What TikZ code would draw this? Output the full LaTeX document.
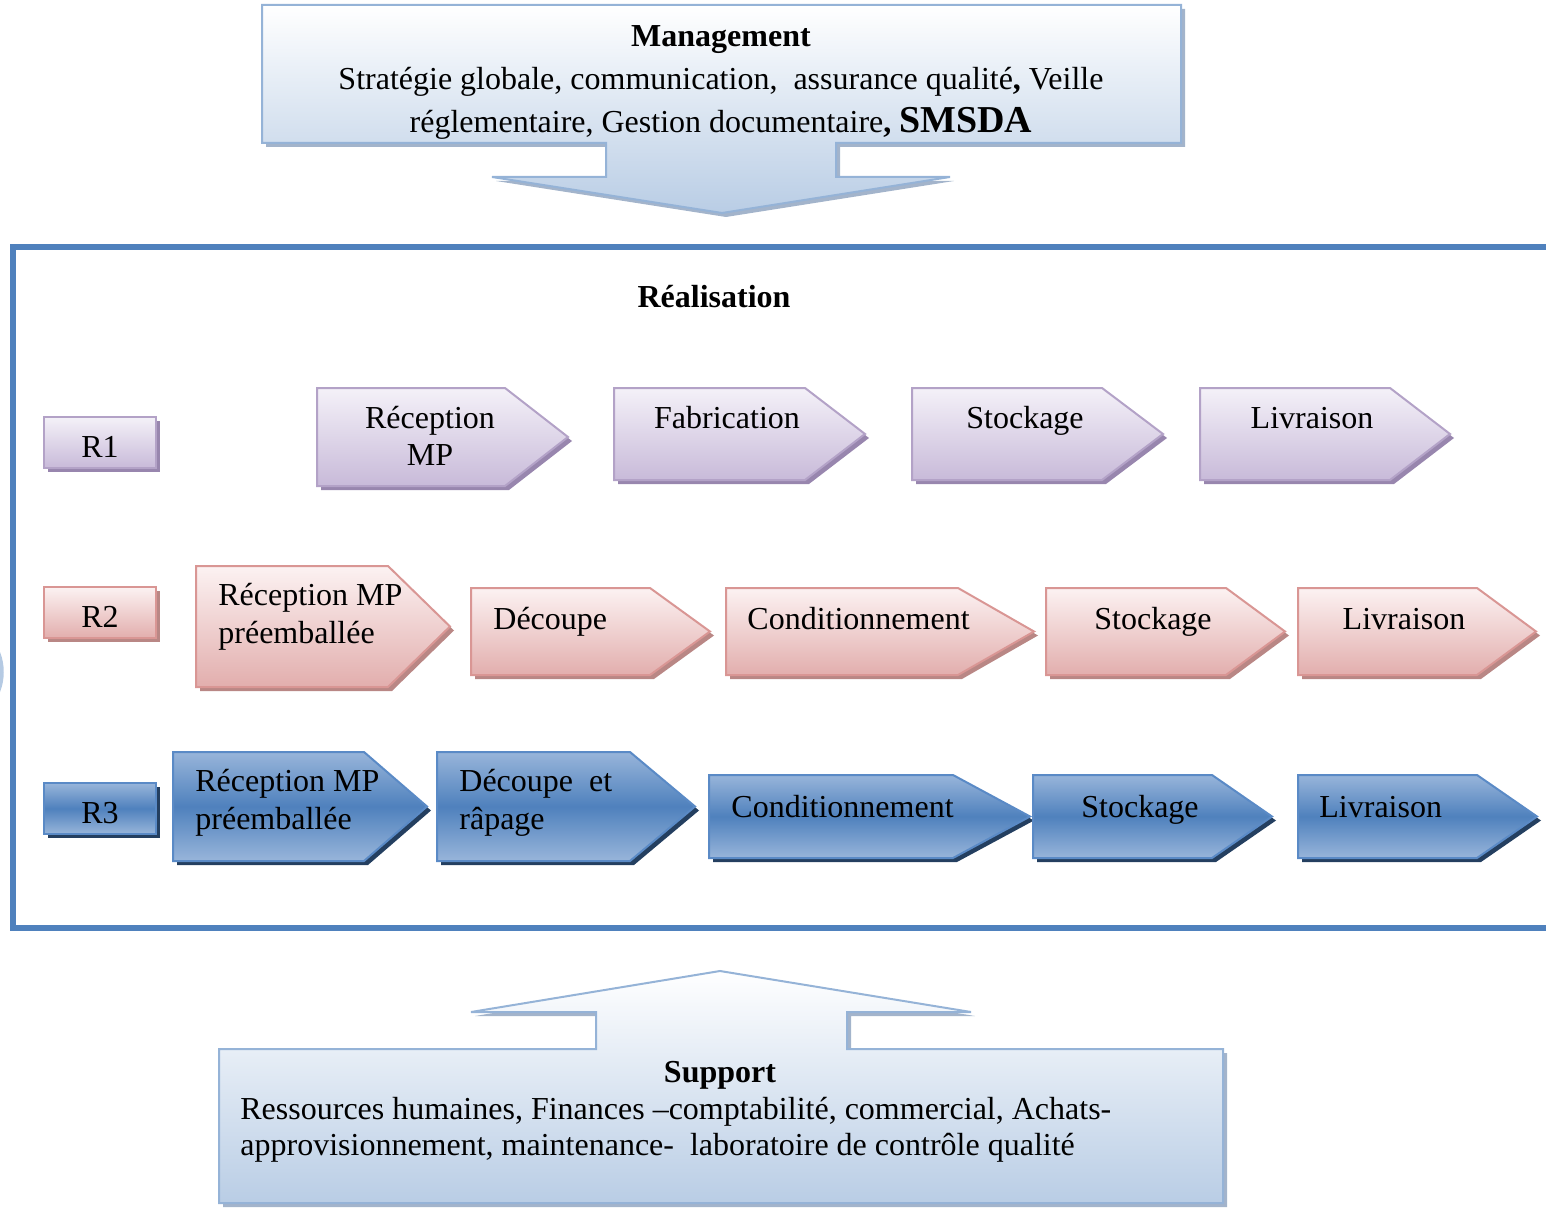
\documentclass[tikz,border=0pt]{standalone}
\usepackage{fontspec}
\setmainfont{Liberation Serif}
\begin{document}
\definecolor{frameblue}{HTML}{4F81BD}
\definecolor{paleline}{HTML}{95B3D7}
\definecolor{palefill}{HTML}{B9CDE5}
\definecolor{paleshadow}{HTML}{A3B4CB}
\definecolor{purpline}{HTML}{B3A2C7}
\definecolor{purptop}{HTML}{F4F1F8}
\definecolor{purpbot}{HTML}{C8BAD9}
\definecolor{purpshadow}{HTML}{9886AE}
\definecolor{pinkline}{HTML}{D99694}
\definecolor{pinktop}{HTML}{FCF2F2}
\definecolor{pinkbot}{HTML}{E2AEAD}
\definecolor{pinkshadow}{HTML}{B98785}
\definecolor{blueline}{HTML}{5A8AC6}
\definecolor{bluelight}{HTML}{98B5DA}
\definecolor{bluemid}{HTML}{4F81BD}
\definecolor{blueshadow}{HTML}{243F60}
\begin{tikzpicture}[x=0.5pt,y=-0.5pt,
  txt/.style={inner sep=0pt, font=\fontsize{16pt}{19pt}\selectfont},
  purpbody/.style={draw=purpline, line width=1pt, top color=purptop, bottom color=purpbot},
  pinkbody/.style={draw=pinkline, line width=1pt, top color=pinktop, bottom color=pinkbot},
  bluebody/.style={draw=blueline, line width=1pt, top color=bluelight, bottom color=bluelight, middle color=bluemid},
  palebody/.style={draw=paleline, line width=1pt, top color=white, bottom color=palefill},
  framebar/.style={draw=frameblue, line width=3pt}]
\useasboundingbox (0,0) rectangle (1546,1208);

% chevron: #1 colour family, #2 left, #3 top, #4 end of straight part, #5 tip x, #6 bottom
\newcommand\chevshape[6]{%
  \fill[#1shadow, shift={(4,4)}] (#2,#3) -- (#4,#3) -- (#5,{(#3+#6)/2}) -- (#4,#6) -- (#2,#6) -- cycle;
  \path[#1body] (#2,#3) -- (#4,#3) -- (#5,{(#3+#6)/2}) -- (#4,#6) -- (#2,#6) -- cycle;}
% row label box: #1 colour family, #2 top, #3 bottom
\newcommand\rowbox[3]{%
  \fill[#1shadow, shift={(4,4)}] (44,#2) rectangle (156,#3);
  \path[#1body] (44,#2) rectangle (156,#3);}

% ---------- Management with downward arrow ----------
\fill[paleshadow, shift={(4,4)}] (262,5) -- (1181,5) -- (1181,143) -- (836,143) -- (836,177)
  -- (950,177) -- (722,213) -- (492,177) -- (606,177) -- (606,143) -- (262,143) -- cycle;
\path[palebody] (262,5) -- (1181,5) -- (1181,143) -- (836,143) -- (836,177)
  -- (950,177) -- (722,213) -- (492,177) -- (606,177) -- (606,143) -- (262,143) -- cycle;
\node[txt, anchor=base, align=center, font=\fontsize{16pt}{21.5pt}\selectfont] (mgmt) at (721,133)
  {\textbf{Management}\\
   Stratégie globale, communication,\ \ assurance qualité\textbf{,} Veille\\
   réglementaire, Gestion documentaire\textbf{, }{\fontsize{19pt}{21.5pt}\selectfont\bfseries SMSDA}};

% ---------- Realisation frame (open on the right) ----------
\draw[framebar] (1546,247.5) -- (13,247.5) -- (13,928) -- (1546,928);
\fill[paleline!70!white] (0,652) .. controls (5,664) and (5,680) .. (0,692) -- cycle;
\node[txt, anchor=base, font=\fontsize{16pt}{19pt}\selectfont\bfseries] (real) at (714,308) {Réalisation};

% ---------- Row R1 ----------
\rowbox{purp}{417}{468}
\node[txt, anchor=base] (R1) at (100,457) {R1};
\chevshape{purp}{317}{388}{505}{568}{486}
\chevshape{purp}{614}{388}{805}{865}{480}
\chevshape{purp}{912}{388}{1102}{1163}{480}
\chevshape{purp}{1200}{388}{1390}{1450}{480}
\node[txt, anchor=base, align=center, font=\fontsize{16pt}{18.5pt}\selectfont] (r1a) at (430,465) {Réception\\MP};
\node[txt, anchor=base] (r1b) at (727,428) {Fabrication};
\node[txt, anchor=base] (r1c) at (1025,428) {Stockage};
\node[txt, anchor=base] (r1d) at (1312,428) {Livraison};

% ---------- Row R2 ----------
\rowbox{pink}{587}{638}
\node[txt, anchor=base] (R2) at (100,627) {R2};
\chevshape{pink}{196}{566}{388}{450}{687}
\chevshape{pink}{471}{588}{650}{710}{675}
\chevshape{pink}{726}{588}{958}{1034}{675}
\chevshape{pink}{1046}{588}{1226}{1285}{675}
\chevshape{pink}{1298}{588}{1477}{1536}{675}
\node[txt, anchor=base west, align=left] (r2a) at (218,643) {Réception MP\\préemballée};
\node[txt, anchor=base west] (r2b) at (493,629) {Découpe};
\node[txt, anchor=base west] (r2c) at (747,629) {Conditionnement};
\node[txt, anchor=base] (r2d) at (1153,629) {Stockage};
\node[txt, anchor=base] (r2e) at (1404,629) {Livraison};

% ---------- Row R3 ----------
\rowbox{blue}{783}{834}
\node[txt, anchor=base] (R3) at (100,823) {R3};
\chevshape{blue}{173}{752}{364}{427}{861}
\chevshape{blue}{437}{752}{630}{695}{861}
\chevshape{blue}{709}{775}{953}{1030}{858}
\chevshape{blue}{1033}{775}{1212}{1272}{858}
\chevshape{blue}{1298}{775}{1477}{1537}{858}
\node[txt, anchor=base west, align=left] (r3a) at (195,829) {Réception MP\\préemballée};
\node[txt, anchor=base west, align=left] (r3b) at (459,829) {Découpe\ \ et\\râpage};
\node[txt, anchor=base west] (r3c) at (731,817) {Conditionnement};
\node[txt, anchor=base] (r3d) at (1140,817) {Stockage};
\node[txt, anchor=base west] (r3e) at (1319,817) {Livraison};

% ---------- Support with upward arrow ----------
\fill[paleshadow, shift={(4,4)}] (219,1049) -- (596,1049) -- (596,1012) -- (471,1012) -- (720,971)
  -- (971,1012) -- (847,1012) -- (847,1049) -- (1223,1049) -- (1223,1203) -- (219,1203) -- cycle;
\path[palebody] (219,1049) -- (596,1049) -- (596,1012) -- (471,1012) -- (720,971)
  -- (971,1012) -- (847,1012) -- (847,1049) -- (1223,1049) -- (1223,1203) -- (219,1203) -- cycle;
\node[txt, anchor=base, font=\fontsize{16pt}{19pt}\selectfont\bfseries] (supt) at (720,1082) {Support};
\node[txt, anchor=base west, align=left, font=\fontsize{16pt}{18pt}\selectfont] (supl) at (240,1155)
  {Ressources humaines, Finances –comptabilité, commercial, Achats-\\
   approvisionnement, maintenance-\ \ laboratoire de contrôle qualité};
\end{tikzpicture}
\end{document}
